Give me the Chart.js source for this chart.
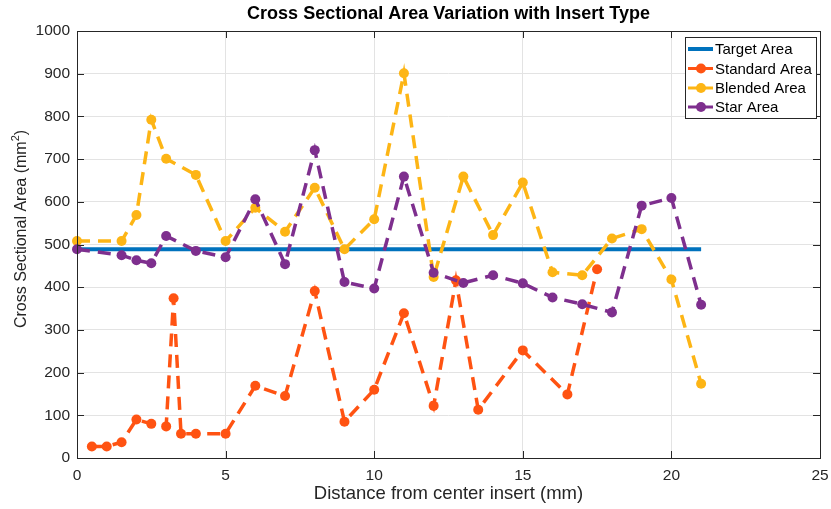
<!DOCTYPE html>
<html><head><meta charset="utf-8">
<script src="https://cdn.jsdelivr.net/npm/chart.js@4/dist/chart.umd.min.js"></script>
<style>html,body{margin:0;padding:0;background:#fff}#wrap{width:831px;height:509px}</style>
</head><body><div id="wrap"><canvas id="c" width="831" height="509"></canvas></div>
<script>
// ---- data ----
const chartTitle = "Cross Sectional Area Variation with Insert Type";
const xTitle = "Distance from center insert (mm)";
const yTitleMain = "Cross Sectional Area (mm";
const yTitleSup = "2";
const yTitleEnd = ")";
const seriesNames = ["Target Area", "Standard Area", "Blended Area", "Star Area"];

const targetX = [0, 21];
const targetY = [489, 489];

const standardX = [0.5, 1, 1.5, 2, 2.5, 3, 3.25, 3.5, 4, 5, 6, 7, 8, 9, 10, 11, 12, 12.75, 13.5, 15, 16.5, 17.5];
const standardY = [27, 27, 37, 90, 80, 74, 374, 57, 57, 57, 169, 145, 391, 85, 160, 339, 122, 416, 113, 252, 149, 442];

const blendedX = [0, 1.5, 2, 2.5, 3, 4, 5, 6, 7, 8, 9, 10, 11, 12, 13, 14, 15, 16, 17, 18, 19, 20, 21];
const blendedY = [508, 508, 569, 792, 701, 663, 508, 586, 530, 633, 489, 559, 901, 424, 659, 522, 645, 435, 428, 514, 536, 418, 174];

const starX = [0, 1.5, 2, 2.5, 3, 4, 5, 6, 7, 8, 9, 10, 11, 12, 13, 14, 15, 16, 17, 18, 19, 20, 21];
const starY = [489, 475, 463, 456, 520, 485, 470, 606, 454, 721, 412, 397, 659, 434, 410, 428, 409, 376, 360, 341, 591, 609, 359];

const xMin = 0, xMax = 25, xStep = 5;
const yMin = 0, yMax = 1000, yStep = 100;

// ---- styling ----
const FONT = "'Liberation Sans', Arial, Helvetica, sans-serif";
const colors = ["#0072BD", "#FF5312", "#FDB515", "#7E2F8E"];
const axisColor = "#262626";

function pts(xs, ys) { return xs.map((x, i) => ({x: x, y: ys[i]})); }

Chart.defaults.font.family = FONT;

const dashed = (label, xs, ys, color, order) => ({
  label, data: pts(xs, ys), borderColor: color, backgroundColor: color,
  borderWidth: 3.5, borderDash: [13, 8], pointRadius: 5, pointHoverRadius: 5,
  pointBorderWidth: 0, pointBackgroundColor: color, tension: 0, clip: false, order
});

const datasets = [
  { label: seriesNames[0], data: pts(targetX, targetY), borderColor: colors[0], backgroundColor: colors[0],
    borderWidth: 4, pointRadius: 0, tension: 0, clip: false, order: 4 },
  dashed(seriesNames[1], standardX, standardY, colors[1], 3),
  dashed(seriesNames[2], blendedX, blendedY, colors[2], 2),
  dashed(seriesNames[3], starX, starY, colors[3], 1)
];

const framePlugin = {
  id: 'frame',
  afterDraw(chart) {
    const {ctx, chartArea: a, scales} = chart;
    ctx.save();
    // inner ticks
    ctx.strokeStyle = axisColor; ctx.lineWidth = 1;
    const tl = 7;
    ctx.beginPath();
    for (let v = xMin; v <= xMax; v += xStep) {
      const px = Math.round(scales.x.getPixelForValue(v)) + 0.5;
      ctx.moveTo(px, a.bottom); ctx.lineTo(px, a.bottom - tl);
      ctx.moveTo(px, a.top); ctx.lineTo(px, a.top + tl);
    }
    for (let v = yMin; v <= yMax; v += yStep) {
      const py = Math.round(scales.y.getPixelForValue(v)) + 0.5;
      ctx.moveTo(a.left, py); ctx.lineTo(a.left + tl, py);
      ctx.moveTo(a.right, py); ctx.lineTo(a.right - tl, py);
    }
    ctx.stroke();
    // box
    ctx.strokeRect(Math.round(a.left) + 0.5, Math.round(a.top) + 0.5,
                   Math.round(a.right - a.left), Math.round(a.bottom - a.top));
    // y axis title with superscript
    ctx.save();
    ctx.fillStyle = axisColor;
    ctx.textBaseline = "middle"; ctx.textAlign = "left";
    const fMain = "16px " + FONT, fSup = "11px " + FONT;
    ctx.font = fMain;
    const w1 = ctx.measureText(yTitleMain).width, w3 = ctx.measureText(yTitleEnd).width;
    ctx.font = fSup;
    const w2 = ctx.measureText(yTitleSup).width;
    const W = w1 + w2 + w3;
    ctx.translate(22, 229);
    ctx.rotate(-Math.PI / 2);
    let x0 = -W / 2;
    ctx.font = fMain; ctx.fillText(yTitleMain, x0, 0);
    ctx.font = fSup; ctx.fillText(yTitleSup, x0 + w1, -6);
    ctx.font = fMain; ctx.fillText(yTitleEnd, x0 + w1 + w2, 0);
    ctx.restore();
    // legend
    const bx = 685, by = 37, bw = 131, bh = 81;
    ctx.fillStyle = "#fff";
    ctx.fillRect(bx, by, bw, bh);
    ctx.strokeStyle = axisColor; ctx.lineWidth = 1;
    ctx.strokeRect(bx + 0.5, by + 0.5, bw, bh);
    const rows = [49, 68.5, 88, 107];
    ctx.font = "15px " + FONT;
    ctx.textBaseline = "middle";
    ctx.textAlign = "left";
    chart.data.datasets.forEach((ds, i) => {
      const y = rows[i];
      ctx.strokeStyle = ds.borderColor;
      ctx.lineWidth = i === 0 ? 4 : 3;
      ctx.setLineDash([]);
      ctx.beginPath(); ctx.moveTo(688, y); ctx.lineTo(713, y); ctx.stroke();
      if (i > 0) {
        ctx.fillStyle = ds.borderColor;
        ctx.beginPath(); ctx.arc(701, y, 5, 0, Math.PI * 2); ctx.fill();
      }
      ctx.fillStyle = "#000";
      ctx.fillText(ds.label, 715, y + 1);
    });
    ctx.restore();
  }
};

new Chart(document.getElementById('c'), {
  type: 'line',
  data: { datasets },
  options: {
    responsive: false, animation: false, devicePixelRatio: 1,
    layout: { padding: { left: 0, right: 11, top: 0, bottom: 0 } },
    plugins: {
      legend: { display: false },
      tooltip: { enabled: false },
      title: { display: true, text: chartTitle, fullSize: false, color: "#000",
               font: { size: 18, weight: 'bold', family: FONT, lineHeight: 1.2 },
               padding: { top: 3, bottom: 6.4 } }
    },
    scales: {
      x: {
        type: 'linear', min: xMin, max: xMax,
        ticks: { stepSize: xStep, color: axisColor, font: { size: 15.5 }, padding: 8, maxRotation: 0,
                 callback: v => String(v) },
        grid: { color: "#e3e3e3", drawTicks: false },
        border: { display: false },
        title: { display: true, text: xTitle, color: axisColor, font: { size: 18.5, lineHeight: 1.2 }, padding: { top: 0, bottom: 4 } },
        afterFit(s) { s.height = 51; s.paddingLeft = 0; s.paddingRight = 0; }
      },
      y: {
        min: yMin, max: yMax,
        ticks: { stepSize: yStep, color: axisColor, font: { size: 15.5 }, padding: 7,
                 callback: v => String(v) },
        grid: { color: "#e3e3e3", drawTicks: false },
        border: { display: false },
        title: { display: false },
        afterFit(s) { s.width = 77; s.paddingTop = 0; s.paddingBottom = 0; }
      }
    }
  },
  plugins: [framePlugin]
});
</script>
</body></html>
